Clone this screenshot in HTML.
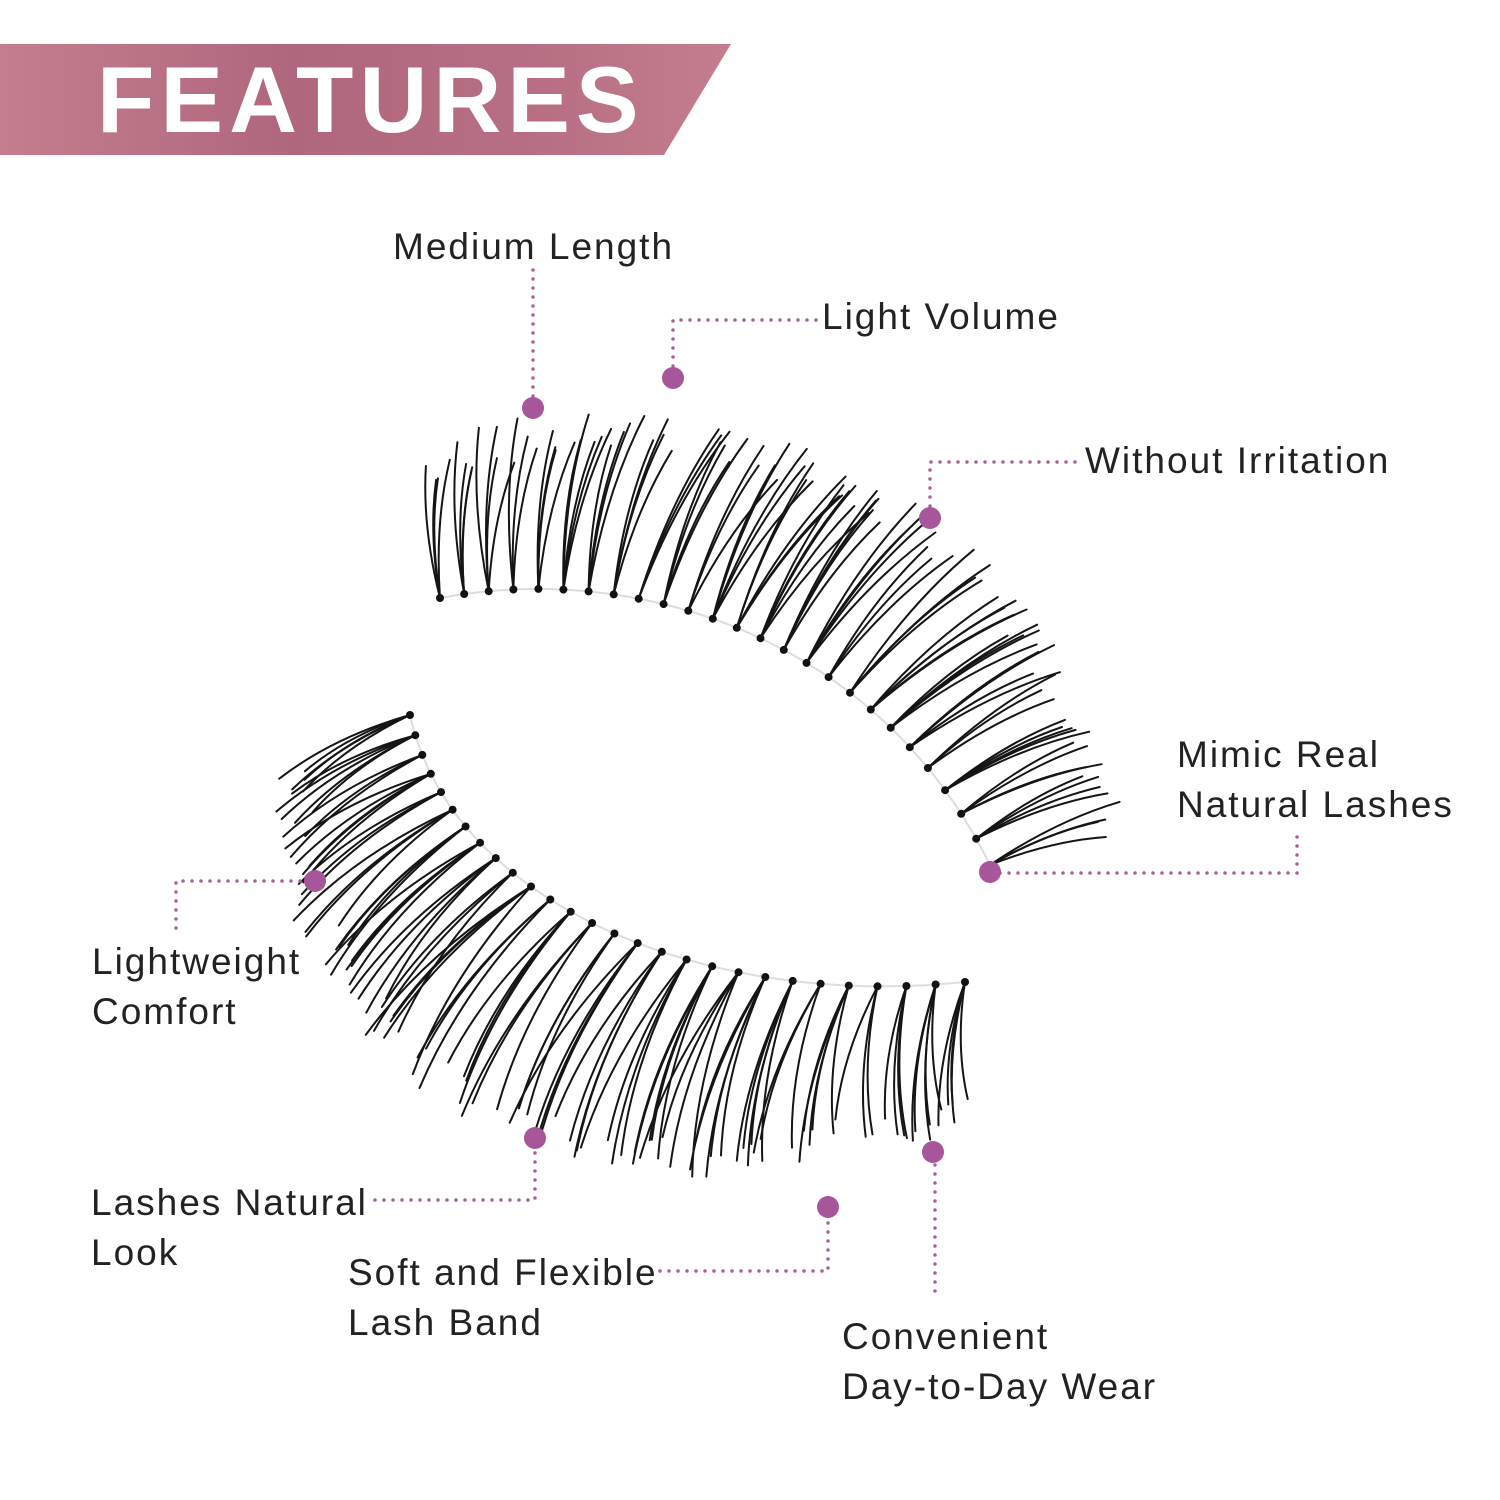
<!DOCTYPE html>
<html><head><meta charset="utf-8"><style>
html,body{margin:0;padding:0;background:#fff;}
#c{position:relative;width:1500px;height:1500px;overflow:hidden;background:#fff;font-family:"Liberation Sans",sans-serif;}
.t{position:absolute;font-size:37px;line-height:50px;color:#222;white-space:nowrap;letter-spacing:2px;}
#ban{position:absolute;left:0;top:44px;width:731px;height:111px;background:linear-gradient(90deg,#c47d8f 0%,#b0677c 40%,#b86f83 75%,#c47d8f 100%);clip-path:polygon(0 0,731px 0,664px 111px,0 111px);}
#ft{position:absolute;left:97px;top:45px;font-size:94px;font-weight:bold;color:#fff;line-height:110px;letter-spacing:6px;font-family:"Liberation Sans",sans-serif;}
svg{position:absolute;left:0;top:0;}
</style></head><body><div id="c">
<div id="ban"></div><div id="ft">FEATURES</div>
<svg id="s" width="1500" height="1500" viewBox="0 0 1500 1500">
<g id="lashes" fill="none" stroke="#151515" stroke-width="2" stroke-linecap="round"></g>
<g stroke="#a8609a" stroke-width="3.5" stroke-linecap="round" stroke-dasharray="0 9" fill="none">
<path d="M533 270 V398"/>
<path d="M673 366 V320 H818"/>
<path d="M930 506 V462 H1080"/>
<path d="M1000 873 H1297 V828"/>
<path d="M176 928 V881 H305"/>
<path d="M375 1200 H535 V1150"/>
<path d="M660 1271 H828 V1220"/>
<path d="M935 1165 V1295"/>
</g>
<g fill="#a8569a">
<circle cx="533" cy="408" r="11"/><circle cx="673" cy="378" r="11"/>
<circle cx="930" cy="518" r="11"/><circle cx="990" cy="872" r="11"/>
<circle cx="315" cy="881" r="11"/><circle cx="535" cy="1138" r="11"/>
<circle cx="828" cy="1207" r="11"/><circle cx="933" cy="1152" r="11"/>
</g>
</svg>
<div class="t" style="left:393px;top:222px">Medium Length</div>
<div class="t" style="left:822px;top:292px">Light Volume</div>
<div class="t" style="left:1085px;top:436px">Without Irritation</div>
<div class="t" style="left:1177px;top:730px">Mimic Real<br>Natural Lashes</div>
<div class="t" style="left:92px;top:937px">Lightweight<br>Comfort</div>
<div class="t" style="left:91px;top:1178px">Lashes Natural<br>Look</div>
<div class="t" style="left:348px;top:1248px">Soft and Flexible<br>Lash Band</div>
<div class="t" style="left:842px;top:1312px">Convenient<br>Day-to-Day Wear</div>
</div>
<script>
(function(){
var g=document.getElementById('lashes');var out='';
function cub(P,t){var u=1-t;return [u*u*u*P[0][0]+3*u*u*t*P[1][0]+3*u*t*t*P[2][0]+t*t*t*P[3][0],u*u*u*P[0][1]+3*u*u*t*P[1][1]+3*u*t*t*P[2][1]+t*t*t*P[3][1]];}
var seed=7;function r(){seed=(seed*9301+49297)%233280;return seed/233280;}
function band(P,n,a0,a1,L0,L1,curl){
 var d='M';for(var i=0;i<=40;i++){var p=cub(P,i/40);d+=(i?' L':'')+p[0].toFixed(1)+' '+p[1].toFixed(1);}
 out+='<path d="'+d+'" stroke="#ddd" stroke-width="2"/>';
 for(var i=0;i<n;i++){var t=i/(n-1);var p=cub(P,t);
  out+='<circle cx="'+p[0].toFixed(1)+'" cy="'+p[1].toFixed(1)+'" r="4" fill="#111" stroke="none"/>';
  var k=3+Math.floor(r()*3);
  for(var j=0;j<k;j++){var a=(a0+(a1-a0)*t+(r()-0.5)*16)*Math.PI/180;var L=L0+(L1-L0)*Math.sin(Math.PI*t)+(r()-0.5)*40;
   var ex=p[0]+Math.cos(a)*L,ey=p[1]+Math.sin(a)*L;
   var ac=a+curl*Math.PI/180;var cx=p[0]+Math.cos(ac)*L*0.55,cy=p[1]+Math.sin(ac)*L*0.55;
   out+='<path d="M'+p[0].toFixed(1)+' '+p[1].toFixed(1)+' Q'+cx.toFixed(1)+' '+cy.toFixed(1)+' '+ex.toFixed(1)+' '+ey.toFixed(1)+'"/>';}
 }}
band([[440,598],[640,560],[880,640],[990,865]],26,-92,-20,135,180,-8);
band([[410,715],[450,900],[700,1010],[965,982]],28,152,93,130,215,10);
g.innerHTML=out;})();
</script>
</body></html>
